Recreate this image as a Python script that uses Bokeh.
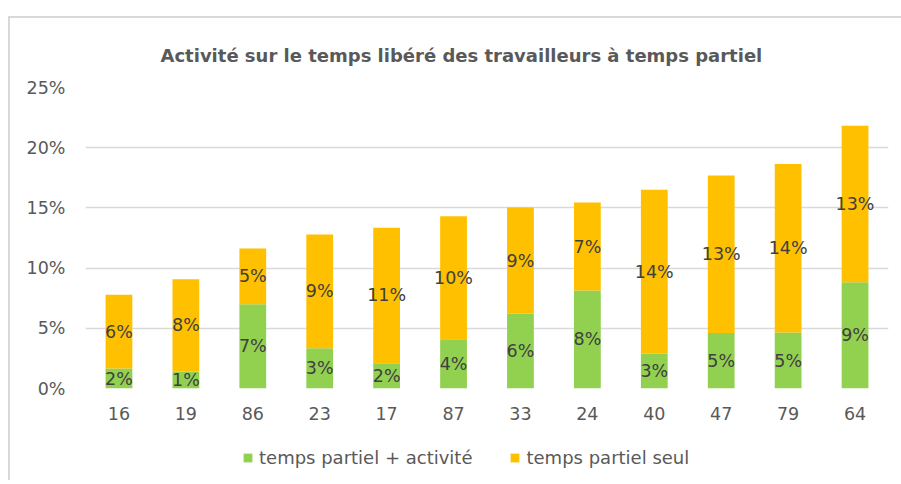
from bokeh.plotting import figure
from bokeh.layouts import column
from bokeh.models import ColumnDataSource, FactorRange, FixedTicker, PrintfTickFormatter, Legend, LegendItem
from bokeh.core.properties import value
from bokeh.embed import file_html
from bokeh.resources import INLINE

categories = ["16", "19", "86", "23", "17", "87", "33", "24", "40", "47", "79", "64"]
tp_activite = [1.66, 1.41, 7.0, 3.35, 2.1, 4.1, 6.23, 8.14, 2.91, 4.6, 4.65, 8.83]
tp_seul = [6.12, 7.67, 4.63, 9.45, 11.25, 10.2, 8.8, 7.3, 13.6, 13.1, 14.0, 13.0]
y_ticks = [0, 5, 10, 15, 20, 25]
title_text = "Activité sur le temps libéré des travailleurs à temps partiel"
series_names = ["temps partiel + activité", "temps partiel seul"]
colors = ["#92D050", "#FFC000"]

FONT = "DejaVu Sans"

src = ColumnDataSource(dict(
    cat=categories, a=tp_activite, s=tp_seul,
    a_mid=[v / 2 for v in tp_activite],
    s_mid=[a + s / 2 for a, s in zip(tp_activite, tp_seul)],
    a_lab=[f"{round(v)}%" for v in tp_activite],
    s_lab=[f"{round(v)}%" for v in tp_seul],
))

p = figure(x_range=FactorRange(*categories), y_range=(0, 25), width=891, height=412,
           output_backend="svg", toolbar_location=None,
           min_border_left=75, min_border_right=13, min_border_top=69, min_border_bottom=42)
p.background_fill_color = "white"
p.border_fill_color = "white"
p.outline_line_color = None

p.title.text = title_text
p.title.align = "left"
p.title.offset = 75
p.title.standoff = 44
p.title.text_font = FONT
p.title.text_font_style = "bold"
p.title.text_font_size = "18px"
p.title.text_color = "#595959"

r = p.vbar_stack(["a", "s"], x="cat", width=0.4, color=colors, source=src, line_color=None)
for col_y, col_t in (("a_mid", "a_lab"), ("s_mid", "s_lab")):
    p.text(x="cat", y=col_y, text=col_t, source=src, text_align="center", text_baseline="middle",
           text_font=value(FONT), text_font_size="17.5px", text_color="#404040")

p.yaxis.ticker = FixedTicker(ticks=y_ticks)
p.yaxis.formatter = PrintfTickFormatter(format="%d%%")
for ax in (p.xaxis[0], p.yaxis[0]):
    ax.axis_line_color = None
    ax.major_tick_line_color = None
    ax.minor_tick_line_color = None
    ax.major_label_text_font = FONT
    ax.major_label_text_font_size = "17.5px"
    ax.major_label_text_color = "#595959"
p.yaxis.major_label_standoff = 14
p.xaxis.major_label_standoff = 12
p.xgrid.grid_line_color = None
p.ygrid.grid_line_color = "#d9d9d9"
p.ygrid.grid_line_width = 1.5
p.ygrid.ticker = FixedTicker(ticks=y_ticks)

lg = figure(width=891, height=50, output_backend="svg", toolbar_location=None,
            x_axis_type=None, y_axis_type=None, x_range=(0, 1), y_range=(0, 1),
            min_border_left=0, min_border_right=0, min_border_top=0, min_border_bottom=0)
lg.outline_line_color = None
lg.xgrid.grid_line_color = None
lg.ygrid.grid_line_color = None
lg.background_fill_color = "white"
lg.border_fill_color = "white"
dummy = [lg.vbar(x=[0.5], top=[0], bottom=[0], width=0, fill_color=c, line_color=None) for c in colors]
legend = Legend(items=[LegendItem(label=n, renderers=[d]) for n, d in zip(series_names, dummy)],
                location=(157, 12), orientation="horizontal",
                label_text_font=FONT, label_text_font_size="18px", label_text_color="#595959",
                glyph_width=11, glyph_height=11, label_standoff=6, spacing=37,
                padding=0, margin=0, border_line_color=None, background_fill_alpha=0)
lg.add_layout(legend, "center")

layout = column(p, lg, spacing=0)
layout.styles = {"border-left": "2px solid #d9d9d9", "border-top": "2px solid #d9d9d9",
                 "margin-top": "16px", "margin-left": "8px"}
open("out.html", "w").write(file_html(layout, INLINE))
